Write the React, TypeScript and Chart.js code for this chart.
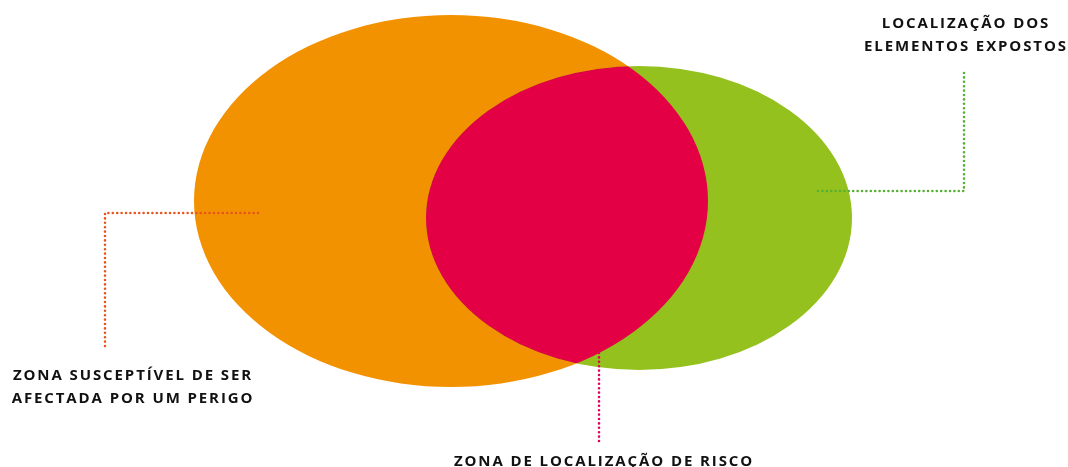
import React, { useEffect, useRef } from "react";
import { Chart, registerables } from "chart.js";

Chart.register(...registerables);

// Sets of the Venn diagram (data units on a 0..1068 x 0..467 plane)
const setNames = ["Zona susceptível", "Elementos expostos"];
const setCenterX = [451, 639];
const setCenterY = [201, 218];
const setRadiusX = [257, 213];
const setRadiusY = [186, 152];
const setColors = ["#F39200", "#95C11F"];
const overlapColor = "#E30045";

// Leader lines
const leaderOrangeX = [258, 105, 105];
const leaderOrangeY = [213, 213, 350];
const leaderGreenX = [818, 964, 964];
const leaderGreenY = [191, 191, 71];
const leaderRedX = [599, 599];
const leaderRedY = [353, 443];

// Labels
const labelLines = [
  ["LOCALIZAÇÃO DOS", "ELEMENTOS EXPOSTOS"],
  ["ZONA SUSCEPTÍVEL DE SER", "AFECTADA POR UM PERIGO"],
  ["ZONA DE LOCALIZAÇÃO DE RISCO"],
];
const labelX = [966, 133, 604];
const labelY = [28, 380, 466];

const toPts = (xs: number[], ys: number[]) => xs.map((x, i) => ({ x, y: ys[i] }));

const vennPlugin = {
  id: "venn",
  beforeDatasetsDraw(chart: any) {
    const { ctx, scales } = chart;
    const sx = scales.x;
    const sy = scales.y;
    const ellipse = (i: number) => {
      const cx = sx.getPixelForValue(setCenterX[i]);
      const cy = sy.getPixelForValue(setCenterY[i]);
      const rx = Math.abs(sx.getPixelForValue(setCenterX[i] + setRadiusX[i]) - cx);
      const ry = Math.abs(sy.getPixelForValue(setCenterY[i] + setRadiusY[i]) - cy);
      ctx.beginPath();
      ctx.ellipse(cx, cy, rx, ry, 0, 0, Math.PI * 2);
    };
    ctx.save();
    setNames.forEach((_, i) => {
      ellipse(i);
      ctx.fillStyle = setColors[i];
      ctx.fill();
    });
    ellipse(0);
    ctx.clip();
    ellipse(1);
    ctx.fillStyle = overlapColor;
    ctx.fill();
    ctx.restore();
  },
  afterDatasetsDraw(chart: any) {
    const { ctx, scales } = chart;
    ctx.save();
    ctx.fillStyle = "#111111";
    ctx.font = "bold 15px 'Open Sans'";
    (ctx as any).letterSpacing = "1.9px";
    ctx.textAlign = "center";
    ctx.textBaseline = "alphabetic";
    labelLines.forEach((lines, i) => {
      const x = scales.x.getPixelForValue(labelX[i]);
      lines.forEach((t, j) => {
        const y = scales.y.getPixelForValue(labelY[i] + j * 23);
        ctx.fillText(t, x, y);
      });
    });
    ctx.restore();
  },
};

export default function App() {
  const ref = useRef<HTMLCanvasElement>(null);
  useEffect(() => {
    if (!ref.current) return;
    const dotted = (color: string) => ({
      showLine: true,
      borderColor: color,
      backgroundColor: color,
      borderWidth: 2.6,
      borderDash: [0, 4.4],
      borderCapStyle: "round" as const,
      pointRadius: 0,
      fill: false,
      tension: 0,
    });
    const chart = new Chart(ref.current, {
      type: "scatter",
      data: {
        datasets: [
          { label: "orange", data: toPts(leaderOrangeX, leaderOrangeY), ...dotted("#E8541E") },
          { label: "green", data: toPts(leaderGreenX, leaderGreenY), ...dotted("#55B033") },
          { label: "red", data: toPts(leaderRedX, leaderRedY), ...dotted("#E4005A") },
        ],
      },
      options: {
        animation: false,
        responsive: false,
        maintainAspectRatio: false,
        devicePixelRatio: 1,
        layout: { padding: 0 },
        plugins: { legend: { display: false }, tooltip: { enabled: false } },
        scales: {
          x: { type: "linear", min: 0, max: 1068, display: false },
          y: { type: "linear", min: 0, max: 467, reverse: true, display: false },
        },
      },
      plugins: [vennPlugin],
    });
    return () => chart.destroy();
  }, []);
  return (
    <div style={{ position: "absolute", left: 0, top: 0, width: 1068, height: 467, background: "#fff" }}>
      <canvas ref={ref} width={1068} height={467} style={{ display: "block" }} />
    </div>
  );
}
